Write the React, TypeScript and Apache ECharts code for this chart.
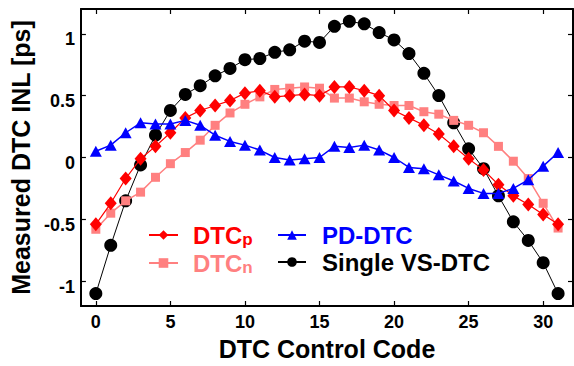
import React, { useEffect, useRef } from "react";
import * as echarts from "echarts";

const codes = [0, 1, 2, 3, 4, 5, 6, 7, 8, 9, 10, 11, 12, 13, 14, 15, 16, 17, 18, 19, 20, 21, 22, 23, 24, 25, 26, 27, 28, 29, 30, 31];
const singleVs = [-1.10, -0.71, -0.35, -0.06, 0.18, 0.38, 0.51, 0.58, 0.66, 0.72, 0.79, 0.80, 0.85, 0.87, 0.94, 0.93, 1.06, 1.10, 1.08, 1.01, 0.95, 0.84, 0.68, 0.50, 0.28, 0.07, -0.09, -0.31, -0.52, -0.67, -0.85, -1.10];
const dtcP = [-0.54, -0.37, -0.17, -0.01, 0.09, 0.20, 0.32, 0.38, 0.42, 0.46, 0.52, 0.54, 0.49, 0.50, 0.51, 0.50, 0.57, 0.57, 0.54, 0.50, 0.38, 0.32, 0.26, 0.19, 0.09, -0.01, -0.10, -0.22, -0.31, -0.38, -0.46, -0.54];
const dtcN = [-0.58, -0.45, -0.35, -0.28, -0.16, -0.05, 0.04, 0.14, 0.26, 0.36, 0.43, 0.49, 0.55, 0.56, 0.57, 0.56, 0.48, 0.48, 0.45, 0.43, 0.42, 0.42, 0.37, 0.35, 0.30, 0.26, 0.20, 0.09, -0.03, -0.17, -0.37, -0.57];
const pdDtc = [0.05, 0.10, 0.20, 0.28, 0.27, 0.27, 0.30, 0.26, 0.18, 0.13, 0.10, 0.06, 0.00, -0.02, -0.01, 0.00, 0.09, 0.08, 0.10, 0.06, 0.00, -0.08, -0.09, -0.14, -0.19, -0.25, -0.29, -0.29, -0.25, -0.18, -0.07, 0.04];
const xTicks = [0, 5, 10, 15, 20, 25, 30];
const yTicks = [-1, -0.5, 0, 0.5, 1];

const FONT = "'Liberation Sans', Arial, Helvetica, sans-serif";
const RED = "#ff0000";
const PINK = "#ff8080";
const BLUE = "#0000ff";
const BLACK = "#000000";

const pair = (vals: number[]) => codes.map((c, i) => [c, vals[i]]);

export default function App() {
  const ref = useRef<HTMLDivElement>(null);
  useEffect(() => {
    if (!ref.current) return;
    const chart = echarts.init(ref.current, null, { renderer: "svg" });
    const axisLine = { show: true, onZero: false, lineStyle: { color: "#000", width: 2 } };
    const tickStyle = { color: "#000", width: 1.2 };
    const labelStyle = { color: "#000", fontSize: 18, fontWeight: "bold" as const, fontFamily: FONT };
    const titleStyle = { color: "#000", fontSize: 25, fontWeight: "bold" as const, fontFamily: FONT };
    const tok = (color: string) => ({ color, fontSize: 24, fontWeight: "bold" as const, fontFamily: FONT, lineHeight: 26 });
    const sub = (color: string) => ({ color, fontSize: 17, fontWeight: "bold" as const, fontFamily: FONT, lineHeight: 16, verticalAlign: "bottom" as const });
    chart.setOption({
      animation: false,
      backgroundColor: "#fff",
      grid: { left: 80, right: 1, top: 9, bottom: 52, containLabel: false },
      xAxis: [
        {
          type: "value", min: -1, max: 32, position: "bottom",
          axisLine, splitLine: { show: false },
          axisTick: { show: true, inside: true, length: 5, customValues: xTicks, lineStyle: tickStyle },
          axisLabel: { show: true, customValues: xTicks, margin: 7, ...labelStyle },
          name: "DTC Control Code", nameLocation: "middle", nameGap: 30, nameTextStyle: titleStyle,
        },
        {
          type: "value", min: -1, max: 32, position: "top",
          axisLine, splitLine: { show: false },
          axisTick: { show: true, inside: true, length: 5, customValues: xTicks, lineStyle: tickStyle },
          axisLabel: { show: false },
        },
      ],
      yAxis: [
        {
          type: "value", min: -1.2, max: 1.2, position: "left",
          axisLine, splitLine: { show: false },
          axisTick: { show: true, inside: true, length: 5, customValues: yTicks, lineStyle: tickStyle },
          axisLabel: { show: true, customValues: yTicks, margin: 6, verticalAlign: "top", lineHeight: 11, ...labelStyle },
          name: "Measured DTC INL [ps]", nameLocation: "middle", nameGap: 42, nameTextStyle: titleStyle,
        },
        {
          type: "value", min: -1.2, max: 1.2, position: "right",
          axisLine, splitLine: { show: false },
          axisTick: { show: true, inside: true, length: 5, customValues: yTicks, lineStyle: tickStyle },
          axisLabel: { show: false },
        },
      ],
      legend: [
        {
          left: 148, top: 223, orient: "vertical", padding: 0, itemGap: 3,
          itemWidth: 29, itemHeight: 12,
          data: ["DTCp", "DTCn"],
          formatter: (name: string) => (name === "DTCp" ? "{r|DTC}{rs|p}" : "{n|DTC}{ns|n}"),
          textStyle: {
            rich: {
              r: { ...tok(RED), padding: [0, 0, 0, 10] },
              rs: sub(RED),
              n: { ...tok(PINK), padding: [0, 0, 0, 10] },
              ns: sub(PINK),
            },
          },
        },
        {
          left: 277, top: 223, orient: "vertical", padding: 0, itemGap: 3,
          itemWidth: 28, itemHeight: 12,
          data: ["PD-DTC", "Single VS-DTC"],
          formatter: (name: string) => (name === "PD-DTC" ? "{b|PD-DTC}" : "{k|Single VS-DTC}"),
          textStyle: {
            rich: {
              b: { ...tok(BLUE), padding: [0, 0, 0, 11] },
              k: { ...tok(BLACK), padding: [0, 0, 0, 11] },
            },
          },
        },
      ],
      series: [
        {
          name: "Single VS-DTC", type: "line", data: pair(singleVs),
          symbol: "circle", symbolSize: 13, z: 2,
          lineStyle: { color: BLACK, width: 1 }, itemStyle: { color: BLACK },
        },
        {
          name: "DTCn", type: "line", data: pair(dtcN),
          symbol: "rect", symbolSize: 9, z: 3,
          lineStyle: { color: PINK, width: 1.5 }, itemStyle: { color: PINK },
        },
        {
          name: "DTCp", type: "line", data: pair(dtcP),
          symbol: "diamond", symbolSize: [12, 14], z: 4,
          lineStyle: { color: RED, width: 1.2 }, itemStyle: { color: RED },
        },
        {
          name: "PD-DTC", type: "line", data: pair(pdDtc),
          symbol: "triangle", symbolSize: [12, 11], z: 5,
          lineStyle: { color: BLUE, width: 1.5 }, itemStyle: { color: BLUE },
        },
      ],
    });
    return () => chart.dispose();
  }, []);
  return (
    <div
      ref={ref}
      style={{ position: "absolute", left: 0, top: 0, width: 574, height: 366 }}
    />
  );
}
